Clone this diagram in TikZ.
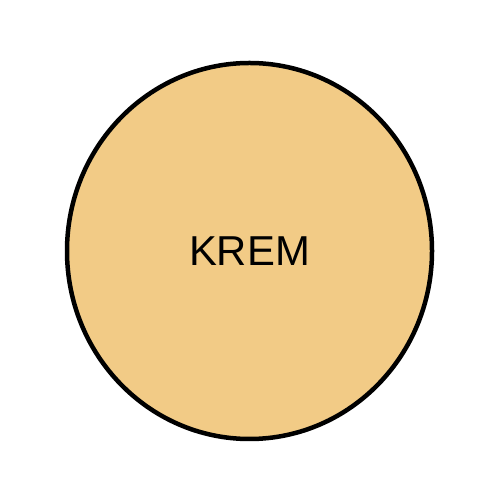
\documentclass[tikz,border=0pt]{standalone}
\usepackage{fontspec}
\setmainfont{Liberation Sans}
\usetikzlibrary{shapes.geometric}
\definecolor{kremfill}{HTML}{F2CB86}
\tikzset{
    blob/.style={
           ellipse,
           draw=black, line width=0.09cm,
           fill=kremfill,
           minimum width=7.3cm,
           minimum height=7.52cm,
           inner sep=0pt,
           font=\fontsize{23.8}{28}\selectfont,
           text centered,
           },
}
\begin{document}
\begin{tikzpicture}
	\useasboundingbox (0,0) rectangle (10,10);
	\node[blob] (krem) at (4.99,4.98) {KREM};
\end{tikzpicture}
\end{document}
